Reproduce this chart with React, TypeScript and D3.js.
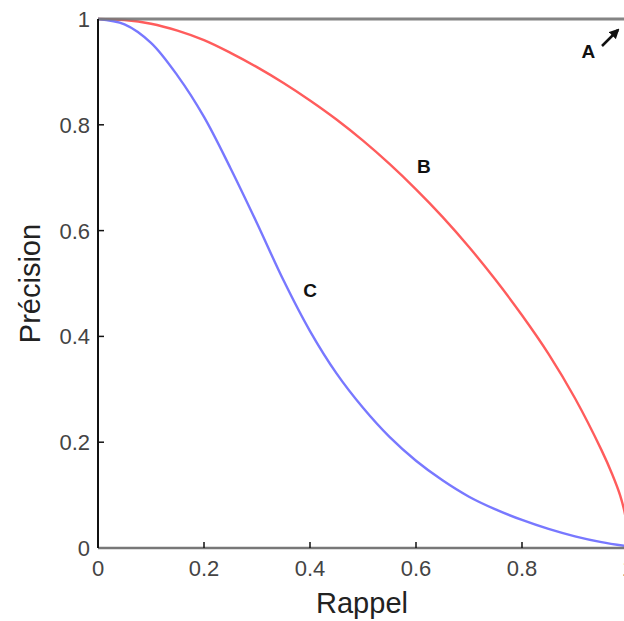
import React from "react";
import * as d3 from "d3";

const xTicks = [0, 0.2, 0.4, 0.6, 0.8, 1];
const yTicks = [0, 0.2, 0.4, 0.6, 0.8, 1];
const tickLabels = ["0", "0.2", "0.4", "0.6", "0.8", "1"];

const recallB = [0, 0.05, 0.1, 0.15, 0.2, 0.25, 0.3, 0.35, 0.4, 0.45, 0.5, 0.55, 0.6, 0.65, 0.7, 0.75, 0.8, 0.85, 0.9, 0.95, 0.97, 0.985, 0.995, 1];
const precisionB = [1, 0.998, 0.991, 0.978, 0.96, 0.936, 0.909, 0.879, 0.846, 0.81, 0.77, 0.726, 0.678, 0.626, 0.569, 0.507, 0.44, 0.367, 0.283, 0.185, 0.14, 0.1, 0.06, 0];

const recallC = [0, 0.05, 0.1, 0.15, 0.2, 0.25, 0.3, 0.35, 0.4, 0.45, 0.5, 0.55, 0.6, 0.65, 0.7, 0.75, 0.8, 0.85, 0.9, 0.95, 1];
const precisionC = [1, 0.99, 0.955, 0.893, 0.815, 0.718, 0.614, 0.506, 0.41, 0.33, 0.265, 0.21, 0.165, 0.128, 0.097, 0.073, 0.053, 0.036, 0.022, 0.011, 0.003];

const labelA = { text: "A", x: 0.925, y: 0.94 };
const labelB = { text: "B", x: 0.615, y: 0.723 };
const labelC = { text: "C", x: 0.4, y: 0.488 };

export default function App() {
  const W = 624, H = 621;
  const x = d3.scaleLinear().domain([0, 1]).range([98, 628]);
  const y = d3.scaleLinear().domain([0, 1]).range([548, 19]);
  const line = d3
    .line<[number, number]>()
    .x((d) => x(d[0]))
    .y((d) => y(d[1]))
    .curve(d3.curveCatmullRom.alpha(0.5));
  const dB = line(recallB.map((r, i) => [r, precisionB[i]]) as [number, number][]) || "";
  const dC = line(recallC.map((r, i) => [r, precisionC[i]]) as [number, number][]) || "";
  const font = "Arial, 'Liberation Sans', Helvetica, sans-serif";

  return (
    <svg
      width={W}
      height={H}
      style={{ position: "absolute", left: 0, top: 0, background: "#fff" }}
      fontFamily={font}
    >
      <defs>
        <marker id="arr" viewBox="0 0 10 10" refX="8" refY="5" markerWidth="4" markerHeight="4" orient="auto">
          <path d="M0,0 L10,5 L0,10 z" fill="#111" />
        </marker>
      </defs>
      <path d={dB} fill="none" stroke="#ff5c5c" strokeWidth={2.4} />
      <path d={dC} fill="none" stroke="#7878ff" strokeWidth={2.4} />
      {/* A: perfect precision line */}
      <line x1={x(0)} x2={x(1)} y1={y(1)} y2={y(1)} stroke="#777" strokeWidth={3} opacity={0.9} />
      {/* axes */}
      <line x1={x(0)} x2={x(1)} y1={y(0)} y2={y(0)} stroke="#777" strokeWidth={2.5} />
      <line x1={x(0)} x2={x(0)} y1={y(0)} y2={y(1)} stroke="#111" strokeWidth={2} />
      {xTicks.map((t, i) => (
        <g key={"x" + i}>
          {i > 0 && i < xTicks.length - 1 && (
            <line x1={x(t)} x2={x(t)} y1={y(0)} y2={y(0) - 6} stroke="#111" strokeWidth={1.5} />
          )}
          <text x={x(t)} y={y(0) + 28} textAnchor="middle" fontSize={22} fill="#444">
            {tickLabels[i]}
          </text>
        </g>
      ))}
      {yTicks.map((t, i) => (
        <g key={"y" + i}>
          {i > 0 && i < yTicks.length - 1 && (
            <line x1={x(0)} x2={x(0) + 6} y1={y(t)} y2={y(t)} stroke="#111" strokeWidth={1.5} />
          )}
          <text x={x(0) - 8} y={y(t) + 8} textAnchor="end" fontSize={22} fill="#444">
            {tickLabels[i]}
          </text>
        </g>
      ))}
      <text x={362} y={613} textAnchor="middle" fontSize={29} fill="#222">
        Rappel
      </text>
      <text
        transform={`translate(40,${y(0.5)}) rotate(-90)`}
        textAnchor="middle"
        fontSize={29}
        fill="#222"
      >
        Précision
      </text>
      {[labelA, labelB, labelC].map((l) => (
        <text key={l.text} x={x(l.x)} y={y(l.y) + 7} textAnchor="middle" fontSize={19} fontWeight="bold" fill="#111">
          {l.text}
        </text>
      ))}
      <line x1={602} y1={46} x2={618} y2={30} stroke="#111" strokeWidth={2.5} markerEnd="url(#arr)" />
    </svg>
  );
}
